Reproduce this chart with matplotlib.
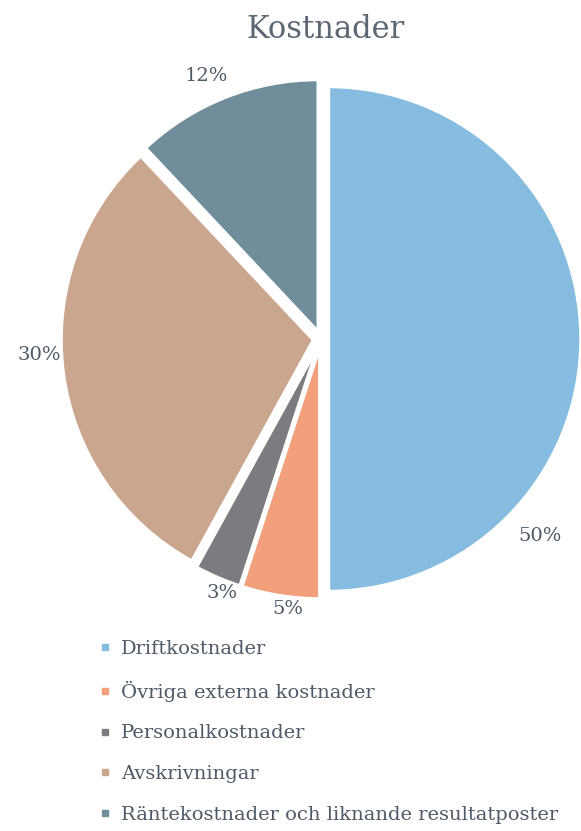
import numpy as np
import matplotlib.pyplot as plt
from matplotlib.lines import Line2D

title = "Kostnader"
categories = ["Driftkostnader", "Övriga externa kostnader", "Personalkostnader",
              "Avskrivningar", "Räntekostnader och liknande resultatposter"]
values = [50, 5, 3, 30, 12]

colors = ["#87bce1", "#f2a07c", "#7b7c80", "#caa68f", "#6f8d9b"]
text_color = "#4e5a66"
# small angle tweaks (deg) so the % labels sit where Excel's best fit put them
label_shift = [-42, 2, 2, -4, 2]
label_dist = [1.18, 1.09, 1.09, 1.13, 1.15]

plt.rcParams['font.family'] = ['DejaVu Serif']

fig = plt.figure(figsize=(5.81, 8.31), dpi=100)
ax = fig.add_axes([0, 0, 1, 1])
# 1 data unit = 250 px, pie centre at pixel (321, 339)
cx, cy, R = 321, 339, 250

wedges, _ = ax.pie(values, colors=colors, startangle=90, counterclock=False,
                   explode=[0.03] * len(values), radius=1.01,
                   wedgeprops=dict(linewidth=2.5, edgecolor="white"))
ax.set_aspect("auto")
ax.set_xlim(-cx / R, (581 - cx) / R)
ax.set_ylim((cy - 831) / R, cy / R)
ax.axis("off")

for w, v, sh, d in zip(wedges, values, label_shift, label_dist):
    ang = np.deg2rad((w.theta1 + w.theta2) / 2 + sh)
    ax.text(d * np.cos(ang), d * np.sin(ang), f"{v}%", ha="center", va="center",
            fontsize=14, color=text_color)

fig.text(326 / 581, 1 - 30 / 831, title, ha="center", va="center",
         fontsize=22, color="#5b6773")

handles = [Line2D([], [], marker="s", linestyle="none", markersize=5,
                  markerfacecolor=c, markeredgecolor=c) for c in colors]
fig.legend(handles, categories, loc="upper left", bbox_to_anchor=(0.155, 1 - 630 / 831),
           frameon=False, fontsize=14, labelcolor=text_color, handlelength=0.5,
           handletextpad=0.6, labelspacing=1.17, borderpad=0)

fig.savefig("out.png", dpi=100)
